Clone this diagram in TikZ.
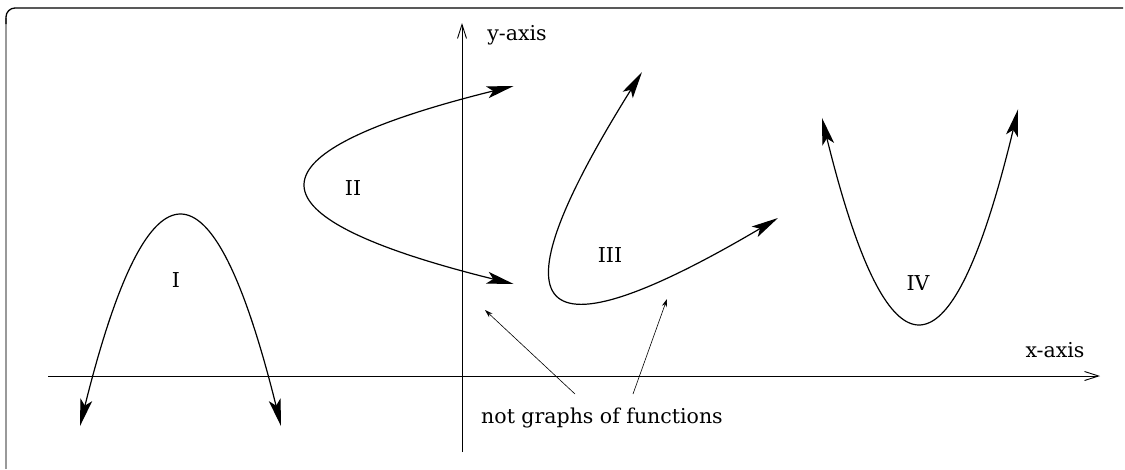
\documentclass[tikz,border=0pt]{standalone}
\usepackage{fontspec}
\setmainfont{DejaVu Serif}
\usetikzlibrary{arrows.meta}
\begin{document}
\begin{tikzpicture}[x=1pt,y=-1pt,
  lbl/.style={font=\fontsize{20.5}{24}\selectfont, inner sep=0pt},
  big/.style={line width=1.2pt, {Stealth[length=27pt,width=12pt,inset=6pt]}-{Stealth[length=27pt,width=12pt,inset=6pt]}},
  axis/.style={line width=0.9pt, -{Straight Barb[length=14pt,width=9pt]}},
  pointer/.style={line width=0.6pt, -{Stealth[length=8pt,width=5pt]}}]
\useasboundingbox (0,0) rectangle (1125,469);
% frame
\draw[gray!80, line width=1.3pt] (6,469) -- (6,18);
\draw[line width=1.3pt, rounded corners=9pt] (6,24) -- (6,8) -- (1123,8);
% axes
\coordinate (xs) at (48,376); \coordinate (xe) at (1100,376);
\coordinate (ys) at (462,452); \coordinate (ye) at (462,23);
\draw[axis] (xs) -- (xe);
\draw[axis] (ys) -- (ye);
\node[lbl] (xl) at (1055,350) {x-axis};
\node[lbl] (yl) at (517,35) {y-axis};
% curve I
\draw[big] plot[domain=80:281, samples=80] (\x, {0.021*(\x-180.5)^2+214});
% curve II
\draw[big] plot[domain=86:284, samples=80] ({0.0214*(\x-185)^2+304}, \x);
% curve III
\draw[big] (642,72) .. controls (487,320) and (532,363) .. (778,218);
% curve IV
\draw[big] plot[domain=822:1018, samples=80] (\x, {325-0.022*(\x-919)^2});
% labels
\node[lbl] (l1) at (176,280) {I};
\node[lbl] (l2) at (353,188) {II};
\node[lbl] (l3) at (610,255) {III};
\node[lbl] (l4) at (918,283) {IV};
\node[lbl] (ngf) at (602,418) {not graphs of functions};
\coordinate (p1s) at (575,394); \coordinate (p1e) at (485,310);
\coordinate (p2s) at (633,394); \coordinate (p2e) at (667,299);
\draw[pointer] (p1s) -- (p1e);
\draw[pointer] (p2s) -- (p2e);
\end{tikzpicture}
\end{document}
